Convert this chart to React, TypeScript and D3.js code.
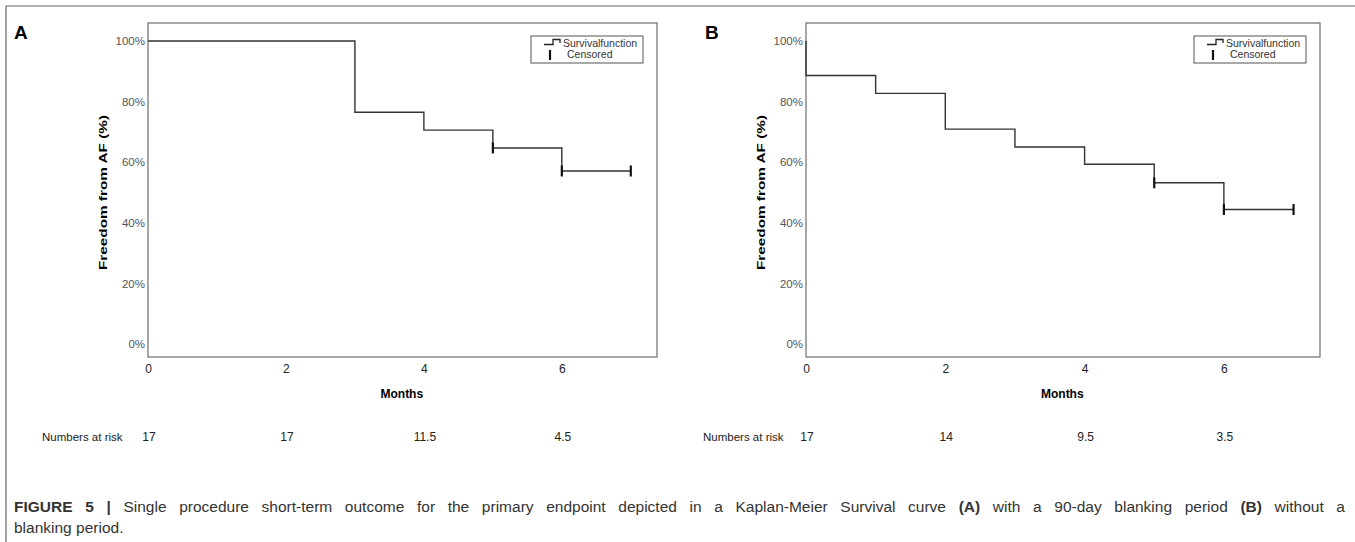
import * as d3 from 'd3';
import { useEffect, useRef } from 'react';

// Kaplan-Meier curves
const monthTicks = [0, 2, 4, 6];
const pctTicks = [0, 0.2, 0.4, 0.6, 0.8, 1.0];

const timesA = [0, 3, 4, 5, 6, 7];
const survA = [1.0, 0.765, 0.706, 0.647, 0.571, 0.571];
const censoredA = [5, 6, 7];

const timesB = [0, 0, 1, 2, 3, 4, 5, 6, 7];
const survB = [1.0, 0.886, 0.827, 0.709, 0.65, 0.593, 0.532, 0.444, 0.444];
const censoredB = [5, 6, 7];

const riskLabels = ['17', '17', '11.5', '4.5'];
const riskLabelsB = ['17', '14', '9.5', '3.5'];

const FONT = '"Liberation Sans", Arial, sans-serif';

function drawPanel(svg, opt) {
    const { left, right, letter, letterX, times, surv, censored, risk, riskX } = opt;
    const top = 23, bottom = 357;

    const x = d3.scaleLinear().domain([0, 7.38]).range([left, right]);
    const y = d3.scaleLinear().domain([0, 1]).range([344, 41]);

    const g = svg.append('g');

    g.append('text')
        .attr('x', letterX).attr('y', 39)
        .style('font', `bold 19px ${FONT}`)
        .text(letter);

    g.append('rect')
        .attr('x', left).attr('y', top)
        .attr('width', right - left).attr('height', bottom - top)
        .attr('fill', 'none').attr('stroke', '#777').attr('stroke-width', 1.3);

    const yAxis = d3.axisLeft(y).tickValues(pctTicks).tickSize(0).tickPadding(3)
        .tickFormat(d => `${Math.round(d * 100)}%`);
    g.append('g').attr('transform', `translate(${left},0)`).call(yAxis)
        .call(s => s.select('.domain').remove())
        .selectAll('text').style('font', `11.5px ${FONT}`).attr('fill', '#555');

    const xAxis = d3.axisBottom(x).tickValues(monthTicks).tickSize(0).tickPadding(7)
        .tickFormat(d3.format('d'));
    g.append('g').attr('transform', `translate(0,${bottom})`).call(xAxis)
        .call(s => s.select('.domain').remove())
        .selectAll('text').style('font', `12px ${FONT}`).attr('fill', '#222');

    g.append('text')
        .attr('transform', `translate(${left - 41},${(y(0) + y(1)) / 2}) rotate(-90)`)
        .attr('text-anchor', 'middle')
        .attr('textLength', 155).attr('lengthAdjust', 'spacingAndGlyphs')
        .style('font', `bold 11px ${FONT}`)
        .text('Freedom from AF (%)');

    g.append('text')
        .attr('x', x(3.68)).attr('y', 398)
        .attr('text-anchor', 'middle')
        .style('font', `bold 12px ${FONT}`)
        .text('Months');

    const pts = times.map((t, i) => [t, surv[i]]);
    const line = d3.line().x(d => x(d[0])).y(d => y(d[1])).curve(d3.curveStepAfter);
    g.append('path').attr('d', line(pts))
        .attr('fill', 'none').attr('stroke', '#333').attr('stroke-width', 1.4);

    const level = t => {
        let v = surv[0];
        times.forEach((tt, i) => { if (tt <= t) v = surv[i]; });
        return v;
    };
    g.selectAll('.cens').data(censored).join('line')
        .attr('x1', d => x(d)).attr('x2', d => x(d))
        .attr('y1', d => y(level(d)) - 5.5).attr('y2', d => y(level(d)) + 5.5)
        .attr('stroke', '#111').attr('stroke-width', 2.2);

    // legend
    const lx = right - 126, ly = 36;
    const lg = g.append('g').attr('transform', `translate(${lx},${ly})`);
    lg.append('rect').attr('width', 112).attr('height', 27)
        .attr('fill', '#fff').attr('stroke', '#555').attr('stroke-width', 1);
    lg.append('path').attr('d', 'M13,8.5 H22 V3.5 H29 V7')
        .attr('fill', 'none').attr('stroke', '#222').attr('stroke-width', 1.3);
    lg.append('line').attr('x1', 19).attr('x2', 19).attr('y1', 14).attr('y2', 24)
        .attr('stroke', '#111').attr('stroke-width', 2.2);
    lg.append('text').attr('x', 32).attr('y', 11)
        .style('font', `10.5px ${FONT}`).attr('fill', '#333').text('Survivalfunction');
    lg.append('text').attr('x', 36).attr('y', 22)
        .style('font', `10.5px ${FONT}`).attr('fill', '#333').text('Censored');

    // numbers at risk
    g.append('text').attr('x', riskX).attr('y', 441)
        .style('font', `11.5px ${FONT}`).attr('fill', '#222').text('Numbers at risk');
    g.selectAll('.risk').data(risk).join('text')
        .attr('x', (d, i) => x(monthTicks[i]) + 1).attr('y', 441)
        .attr('text-anchor', 'middle')
        .style('font', `12px ${FONT}`).attr('fill', '#222')
        .text(d => d);
}

function Chart() {
    const svgRef = useRef(null);

    useEffect(() => {
        const svg = d3.select(svgRef.current);
        svg.selectAll('*').remove();

        // figure frame
        svg.append('line').attr('x1', 6).attr('x2', 1355).attr('y1', 6).attr('y2', 6)
            .attr('stroke', '#666').attr('stroke-width', 1.2);
        svg.append('line').attr('x1', 6).attr('x2', 6).attr('y1', 6).attr('y2', 542)
            .attr('stroke', '#666').attr('stroke-width', 1.2);

        drawPanel(svg, {
            left: 148, right: 657, letter: 'A', letterX: 14,
            times: timesA, surv: survA, censored: censoredA,
            risk: riskLabels, riskX: 42,
        });
        drawPanel(svg, {
            left: 806, right: 1320, letter: 'B', letterX: 705,
            times: timesB, surv: survB, censored: censoredB,
            risk: riskLabelsB, riskX: 703,
        });

        // caption, first line justified
        const cap = svg.append('text').attr('x', 14).attr('y', 512)
            .style('font', `15.5px ${FONT}`).attr('fill', '#333');
        cap.append('tspan').style('font-weight', 'bold').text('FIGURE 5 | ');
        cap.append('tspan').text('Single procedure short-term outcome for the primary endpoint depicted in a Kaplan-Meier Survival curve ');
        cap.append('tspan').style('font-weight', 'bold').text('(A)');
        cap.append('tspan').text(' with a 90-day blanking period ');
        cap.append('tspan').style('font-weight', 'bold').text('(B)');
        cap.append('tspan').text(' without a');
        const natural = cap.node().getComputedTextLength();
        const spaces = cap.text().split(' ').length - 1;
        if (natural < 1331) cap.attr('word-spacing', (1331 - natural) / spaces);
        else cap.attr('textLength', 1331).attr('lengthAdjust', 'spacingAndGlyphs');

        svg.append('text').attr('x', 14).attr('y', 533)
            .style('font', `15.5px ${FONT}`).attr('fill', '#333')
            .text('blanking period.');
    }, []);

    return <svg ref={svgRef} width={1355} height={542} style={{ display: 'block', position: 'absolute', left: 0, top: 0 }} />;
}

export default function App() {
    return <Chart />;
}
